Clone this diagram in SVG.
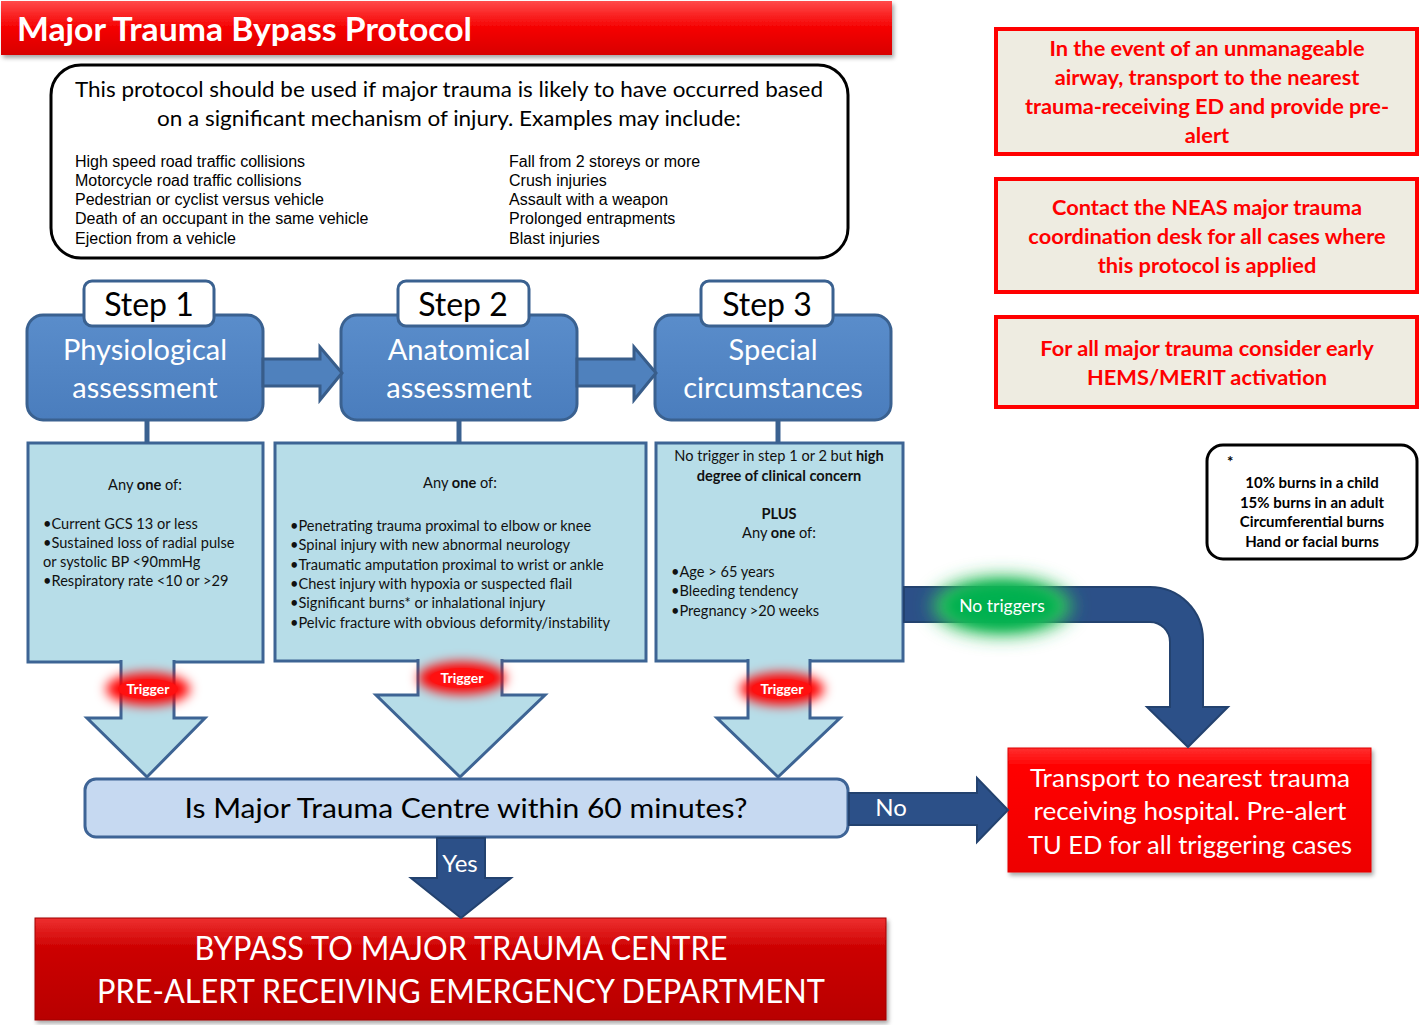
<svg xmlns="http://www.w3.org/2000/svg" width="1420" height="1025" viewBox="0 0 1420 1025">
<defs>
  <linearGradient id="gTitle" x1="0" y1="0" x2="0" y2="1">
    <stop offset="0" stop-color="#ff4a4a"/>
    <stop offset="0.5" stop-color="#f50000"/>
    <stop offset="1" stop-color="#d80000"/>
  </linearGradient>
  <linearGradient id="gBottom" x1="0" y1="0" x2="0" y2="1">
    <stop offset="0" stop-color="#ee3030"/>
    <stop offset="0.3" stop-color="#cc0000"/>
    <stop offset="1" stop-color="#b80000"/>
  </linearGradient>
  <linearGradient id="gRed" x1="0" y1="0" x2="0" y2="1">
    <stop offset="0" stop-color="#ff3030"/>
    <stop offset="0.15" stop-color="#ff0000"/>
    <stop offset="1" stop-color="#ee0000"/>
  </linearGradient>
  <linearGradient id="gStep" x1="0" y1="0" x2="0" y2="1">
    <stop offset="0" stop-color="#5a8dcb"/>
    <stop offset="1" stop-color="#4a7dbd"/>
  </linearGradient>
  <filter id="shadow" x="-5%" y="-10%" width="110%" height="130%">
    <feDropShadow dx="2" dy="3" stdDeviation="2" flood-color="#000" flood-opacity="0.35"/>
  </filter>
  <filter id="glow" x="-50%" y="-80%" width="200%" height="260%">
    <feGaussianBlur stdDeviation="6"/>
  </filter>
  <filter id="glow2" x="-50%" y="-80%" width="200%" height="260%">
    <feGaussianBlur stdDeviation="9"/>
  </filter>
  <style>
    .sans { font-family: Lato, "Open Sans", sans-serif; }
    .arial { font-family: "Liberation Sans", Arial, sans-serif; }
    .stepbox { fill: url(#gStep); stroke: #3a6190; stroke-width: 3; }
    .tab { fill: #ffffff; stroke: #3a6190; stroke-width: 3; }
    .content { fill: #b7dde8; stroke: #3d6494; stroke-width: 3; }
    .note { fill: #eeece1; stroke: #ff0000; stroke-width: 4; }
    .notetxt { font-family: Lato, "Open Sans", sans-serif; font-weight: bold; fill: #ff0000; font-size: 21.8px; text-anchor: middle; }
    .steplbl { font-family: Lato, "Open Sans", sans-serif; font-size: 32px; fill: #000; text-anchor: middle; }
    .stepname { font-family: Lato, "Open Sans", sans-serif; font-size: 29px; fill: #ffffff; text-anchor: middle; }
    .body { font-family: Lato, "Open Sans", sans-serif; font-size: 14.6px; fill: #111; }
    .mid { text-anchor: middle; }
    .b { font-weight: bold; }
    .flow { fill: #b7dde8; stroke: #3d6494; stroke-width: 3; stroke-linejoin: miter; }
    .dark { fill: #2c5088; stroke: #23426f; stroke-width: 2; }
    .side { fill: #4f81bd; stroke: #385d8a; stroke-width: 3; }
    .white { fill: #ffffff; }
  </style>
</defs>

<rect width="1420" height="1025" fill="#ffffff"/>

<!-- Title -->
<g id="title">
  <rect x="1" y="1" width="891" height="54" fill="url(#gTitle)" filter="url(#shadow)"/>
  <text x="17" y="41" class="sans b white" font-size="32" textLength="455" lengthAdjust="spacingAndGlyphs">Major Trauma Bypass Protocol</text>
</g>

<!-- Intro box -->
<g id="intro">
  <rect x="51" y="65" width="797" height="193" rx="30" ry="30" fill="#ffffff" stroke="#000" stroke-width="3"/>
  <text x="449" y="97" class="sans mid" font-size="21.5" fill="#000" textLength="748" lengthAdjust="spacingAndGlyphs">This protocol should be used if major trauma is likely to have occurred based</text>
  <text x="449" y="126" class="sans mid" font-size="21.5" fill="#000" textLength="584" lengthAdjust="spacingAndGlyphs">on a significant mechanism of injury. Examples may include:</text>
  <g class="arial" font-size="16" fill="#000">
    <text x="75" y="167">High speed road traffic collisions</text>
    <text x="75" y="186">Motorcycle road traffic collisions</text>
    <text x="75" y="205">Pedestrian or cyclist versus vehicle</text>
    <text x="75" y="224">Death of an occupant in the same vehicle</text>
    <text x="75" y="244">Ejection from a vehicle</text>
    <text x="509" y="167">Fall from 2 storeys or more</text>
    <text x="509" y="186">Crush injuries</text>
    <text x="509" y="205">Assault with a weapon</text>
    <text x="509" y="224">Prolonged entrapments</text>
    <text x="509" y="244">Blast injuries</text>
  </g>
</g>

<!-- Step 1 -->
<g id="step1">
  <rect x="27" y="315" width="236" height="105" rx="16" class="stepbox"/>
  <rect x="84" y="281" width="130" height="45" rx="8" class="tab"/>
  <text x="149" y="316" class="steplbl">Step 1</text>
  <text x="145" y="360" class="stepname">Physiological</text>
  <text x="145" y="398" class="stepname">assessment</text>
</g>
<g id="step2">
  <rect x="341" y="315" width="236" height="105" rx="16" class="stepbox"/>
  <rect x="398" y="281" width="131" height="45" rx="8" class="tab"/>
  <text x="463" y="316" class="steplbl">Step 2</text>
  <text x="459" y="360" class="stepname">Anatomical</text>
  <text x="459" y="398" class="stepname">assessment</text>
</g>
<g id="step3">
  <rect x="655" y="315" width="236" height="105" rx="16" class="stepbox"/>
  <rect x="701" y="281" width="132" height="45" rx="8" class="tab"/>
  <text x="767" y="316" class="steplbl">Step 3</text>
  <text x="773" y="360" class="stepname">Special</text>
  <text x="773" y="398" class="stepname">circumstances</text>
</g>

<!-- Content boxes -->
<g id="criteria1">
  <rect x="28" y="443" width="235" height="219" class="content"/>
  <text x="145" y="490" class="body mid">Any <tspan class="b">one</tspan> of:</text>
  <text x="43" y="529" class="body">•Current GCS 13 or less</text>
  <text x="43" y="548" class="body">•Sustained loss of radial pulse</text>
  <text x="43" y="567" class="body">or systolic BP &lt;90mmHg</text>
  <text x="43" y="586" class="body">•Respiratory rate &lt;10 or &gt;29</text>
</g>
<g id="criteria2">
  <rect x="275" y="443" width="371" height="218" class="content"/>
  <text x="460" y="488" class="body mid">Any <tspan class="b">one</tspan> of:</text>
  <text x="290" y="531" class="body">•Penetrating trauma proximal to elbow or knee</text>
  <text x="290" y="550" class="body">•Spinal injury with new abnormal neurology</text>
  <text x="290" y="570" class="body">•Traumatic amputation proximal to wrist or ankle</text>
  <text x="290" y="589" class="body">•Chest injury with hypoxia or suspected flail</text>
  <text x="290" y="608" class="body">•Significant burns* or inhalational injury</text>
  <text x="290" y="628" class="body">•Pelvic fracture with obvious deformity/instability</text>
</g>
<g id="criteria3">
  <rect x="656" y="443" width="247" height="218" class="content"/>
  <text x="779" y="461" class="body mid">No trigger in step 1 or 2 but <tspan class="b">high</tspan></text>
  <text x="779" y="481" class="body mid b">degree of clinical concern</text>
  <text x="779" y="519" class="body mid b">PLUS</text>
  <text x="779" y="538" class="body mid">Any <tspan class="b">one</tspan> of:</text>
  <text x="671" y="577" class="body">•Age &gt; 65 years</text>
  <text x="671" y="596" class="body">•Bleeding tendency</text>
  <text x="671" y="616" class="body">•Pregnancy &gt;20 weeks</text>
</g>

<!-- Notes -->
<g id="note-airway">
  <rect x="996" y="29" width="421" height="125" class="note"/>
  <text x="1207" y="56" class="notetxt">In the event of an unmanageable</text>
  <text x="1207" y="85" class="notetxt">airway, transport to the nearest</text>
  <text x="1207" y="114" class="notetxt">trauma-receiving ED and provide pre-</text>
  <text x="1207" y="143" class="notetxt">alert</text>
</g>
<g id="note-neas">
  <rect x="996" y="179" width="421" height="113" class="note"/>
  <text x="1207" y="215" class="notetxt">Contact the NEAS major trauma</text>
  <text x="1207" y="244" class="notetxt">coordination desk for all cases where</text>
  <text x="1207" y="273" class="notetxt">this protocol is applied</text>
</g>
<g id="note-hems">
  <rect x="996" y="317" width="421" height="90" class="note"/>
  <text x="1207" y="356" class="notetxt">For all major trauma consider early</text>
  <text x="1207" y="385" class="notetxt">HEMS/MERIT activation</text>
</g>
<g id="note-burns">
  <rect x="1207" y="445" width="210" height="114" rx="16" fill="#ffffff" stroke="#000" stroke-width="3"/>
  <text x="1227" y="467" class="sans b" font-size="15" fill="#000">*</text>
  <g class="sans b mid" font-size="15" fill="#000">
    <text x="1312" y="488">10% burns in a child</text>
    <text x="1312" y="508">15% burns in an adult</text>
    <text x="1312" y="527">Circumferential burns</text>
    <text x="1312" y="547">Hand or facial burns</text>
  </g>
</g>

<!-- Decision -->
<g id="decision">
  <rect x="85" y="779" width="763" height="58" rx="11" fill="#c6d9f1" stroke="#3e6496" stroke-width="3"/>
  <text x="466" y="818" class="sans mid" font-size="27" fill="#000" textLength="563" lengthAdjust="spacingAndGlyphs">Is Major Trauma Centre within 60 minutes?</text>
</g>

<!-- Outcomes -->
<g id="outcome-local">
  <rect x="1008" y="748" width="363" height="124" fill="url(#gRed)" stroke="#e00000" stroke-width="1" filter="url(#shadow)"/>
  <text x="1190" y="787" class="sans mid white" font-size="25.5" textLength="320" lengthAdjust="spacingAndGlyphs">Transport to nearest trauma</text>
  <text x="1190" y="820" class="sans mid white" font-size="25.5" textLength="313" lengthAdjust="spacingAndGlyphs">receiving hospital. Pre-alert</text>
  <text x="1190" y="854" class="sans mid white" font-size="25.5" textLength="324" lengthAdjust="spacingAndGlyphs">TU ED for all triggering cases</text>
</g>
<g id="outcome-mtc">
  <rect x="35" y="918" width="851" height="102" fill="url(#gBottom)" stroke="#a00000" stroke-width="1" filter="url(#shadow)"/>
  <text x="461" y="960" class="sans mid white" font-size="32" textLength="533" lengthAdjust="spacingAndGlyphs">BYPASS TO MAJOR TRAUMA CENTRE</text>
  <text x="461" y="1003" class="sans mid white" font-size="32" textLength="728" lengthAdjust="spacingAndGlyphs">PRE-ALERT RECEIVING EMERGENCY DEPARTMENT</text>
</g>

<!-- Connectors -->
<g id="connectors">
  <!-- step to step -->
  <path class="side" d="M263,359 L320,359 L320,347 L342,373 L320,400 L320,386 L263,386 Z"/>
  <path class="side" d="M577,359 L634,359 L634,347 L656,373 L634,400 L634,386 L577,386 Z"/>
  <!-- step to criteria -->
  <g stroke="#3a6190" stroke-width="5">
    <line x1="147" y1="421" x2="147" y2="443"/>
    <line x1="459" y1="421" x2="459" y2="443"/>
    <line x1="778" y1="421" x2="778" y2="443"/>
  </g>
  <!-- trigger arrows -->
  <path class="flow" d="M121,660 L121,718 L87,718 L147,777 L205,718 L174,718 L174,660"/>
  <path class="flow" d="M418,659 L418,695 L376,695 L460,777 L545,695 L502,695 L502,659"/>
  <path class="flow" d="M748,659 L748,718 L717,718 L778,777 L840,718 L810,718 L810,659"/>
  <!-- trigger glows -->
  <ellipse cx="148" cy="689" rx="42" ry="16" fill="#ff0000" filter="url(#glow)"/>
  <ellipse cx="148" cy="689" rx="30" ry="10" fill="#ff1010"/>
  <text x="148" y="694" class="sans b mid white" font-size="14">Trigger</text>
  <ellipse cx="462" cy="678" rx="44" ry="16" fill="#ff0000" filter="url(#glow)"/>
  <ellipse cx="462" cy="678" rx="32" ry="10" fill="#ff1010"/>
  <text x="462" y="683" class="sans b mid white" font-size="14">Trigger</text>
  <ellipse cx="782" cy="689" rx="42" ry="16" fill="#ff0000" filter="url(#glow)"/>
  <ellipse cx="782" cy="689" rx="30" ry="10" fill="#ff1010"/>
  <text x="782" y="694" class="sans b mid white" font-size="14">Trigger</text>
  <!-- no triggers bent arrow -->
  <path class="dark" d="M904,587 L1150,587 A53,53 0 0 1 1203,640 L1203,707 L1228,707 L1188,747 L1147,707 L1170,707 L1170,642 A20,20 0 0 0 1150,622 L904,622 Z"/>
  <ellipse cx="1002" cy="606" rx="70" ry="30" fill="#30c060" filter="url(#glow2)"/>
  <ellipse cx="1002" cy="606" rx="56" ry="22" fill="#00b050" filter="url(#glow)"/>
  <text x="1002" y="612" class="sans mid white" font-size="17.5">No triggers</text>
  <!-- No arrow -->
  <path class="dark" d="M849,793 L977,793 L977,778 L1008,810 L977,842 L977,825 L849,825 Z"/>
  <text x="891" y="816" class="sans mid white" font-size="24">No</text>
  <!-- Yes arrow -->
  <path class="dark" d="M437,838 L485,838 L485,878 L511,878 L461,918 L411,878 L437,878 Z"/>
  <text x="460" y="872" class="sans mid white" font-size="24">Yes</text>
</g>
</svg>
